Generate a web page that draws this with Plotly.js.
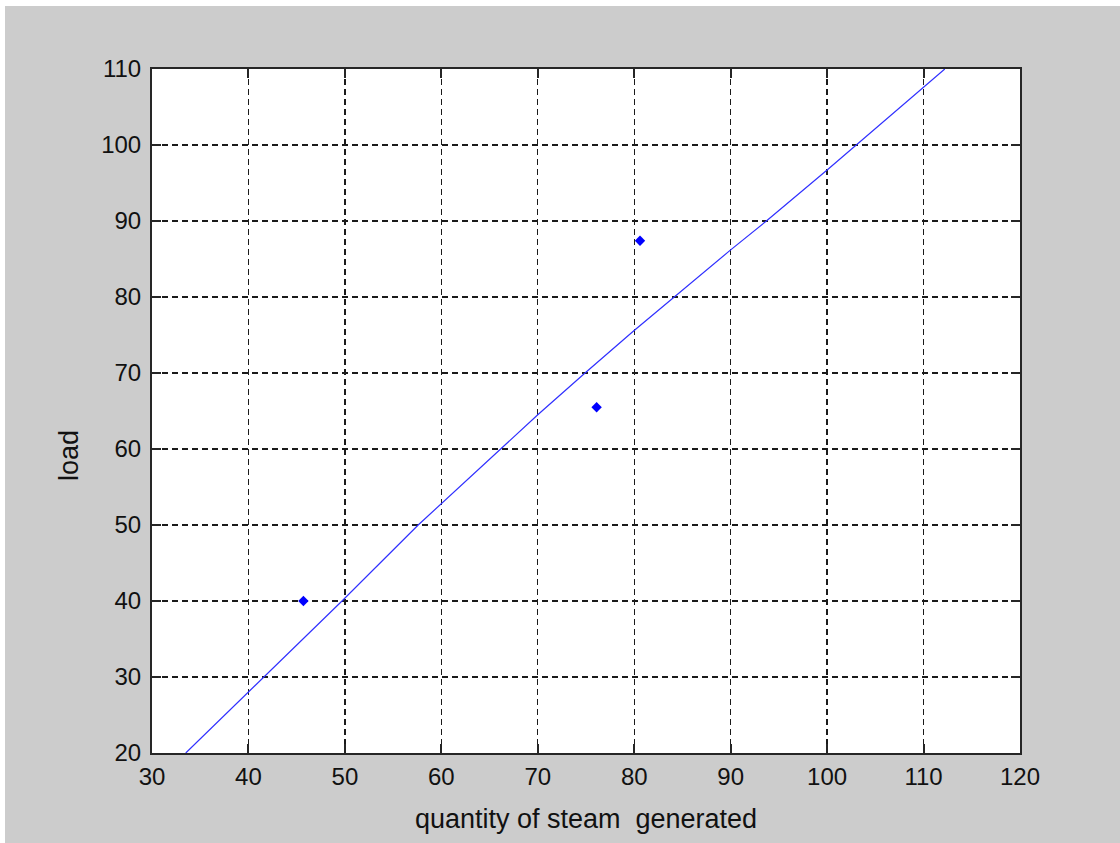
<!DOCTYPE html>
<html>
<head>
<meta charset="utf-8">
<script src="https://cdn.plot.ly/plotly-3.0.1.min.js"></script>
<style>
html,body{margin:0;padding:0;background:#ffffff;width:1120px;height:843px;overflow:hidden;}
#plot{position:absolute;left:5px;top:6px;width:1115px;height:837px;}
</style>
</head>
<body>
<div id="plot"></div>
<script>
var pointX = [45.7, 80.6, 76.1];
var pointY = [40.0, 87.4, 65.5];
var lineX = [33.5, 49.7, 57.6, 60.0, 66.1, 70.0, 74.9, 79.9, 90.0, 93.7, 100.0, 103.0, 112.2];
var lineY = [20, 40, 50, 52.8, 60, 64.5, 70, 75.5, 86.2, 90, 96.7, 100, 110];
var xTicks = [30, 40, 50, 60, 70, 80, 90, 100, 110, 120];
var yTicks = [20, 30, 40, 50, 60, 70, 80, 90, 100, 110];
var xLabel = 'quantity of steam  generated';
var yLabel = 'load';

var fontFam = '"Liberation Sans", Arial, sans-serif';

var traces = [
  {x: lineX, y: lineY, mode: 'lines', type: 'scatter',
   line: {color: '#3030ff', width: 1.2}, hoverinfo: 'skip', showlegend: false},
  {x: pointX, y: pointY, mode: 'markers', type: 'scatter',
   marker: {symbol: 'diamond', size: 8, color: '#0000ff'}, showlegend: false}
];

var axisCommon = {
  showgrid: true, gridcolor: '#1a1a1a', gridwidth: 1.4, griddash: '6px,4px',
  zeroline: false, showline: true, linecolor: '#262626', linewidth: 2,
  mirror: 'ticks', ticks: 'inside', ticklen: 9, tickwidth: 2, tickcolor: '#262626',
  tickfont: {family: fontFam, size: 24, color: '#111111'}
};

var layout = {
  width: 1115, height: 837,
  paper_bgcolor: '#cccccc', plot_bgcolor: '#ffffff',
  margin: {l: 147, r: 100, t: 63, b: 90},
  xaxis: Object.assign({}, axisCommon, {
    range: [30, 120], tickvals: xTicks, ticktext: xTicks.map(String),
    ticklabelstandoff: 1,
    title: {text: xLabel, font: {family: fontFam, size: 27, color: '#111111'}, standoff: 20}
  }),
  yaxis: Object.assign({}, axisCommon, {
    range: [20, 110], tickvals: yTicks, ticktext: yTicks.map(String),
    ticklabelstandoff: 4
  }),
  annotations: [{
    text: yLabel, xref: 'paper', yref: 'paper', x: -0.095, y: 0.435,
    xanchor: 'center', yanchor: 'middle', textangle: -90, showarrow: false,
    font: {family: fontFam, size: 27, color: '#111111'}
  }]
};

Plotly.newPlot('plot', traces, layout, {staticPlot: true, displayModeBar: false});
</script>
</body>
</html>
